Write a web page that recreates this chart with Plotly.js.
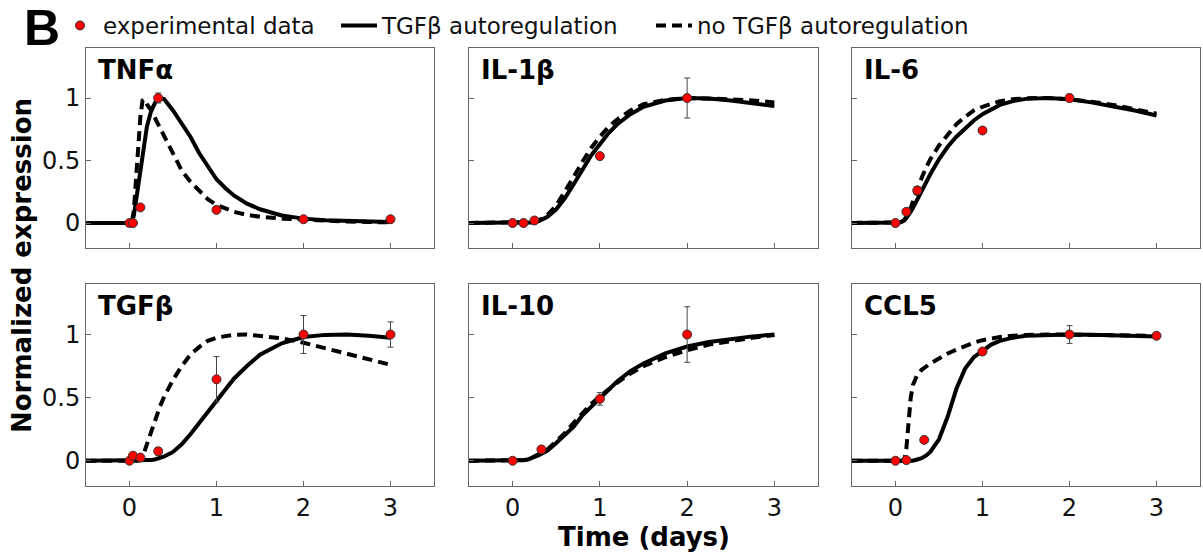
<!DOCTYPE html>
<html>
<head>
<meta charset="utf-8">
<script src="https://cdn.plot.ly/plotly-3.0.1.min.js"></script>
<style>html,body{margin:0;padding:0;background:#fff;}#chart{width:1203px;height:555px;}</style>
</head>
<body>
<div id="chart"></div>
<script>
// ---------- data ----------
const panelNames = ["TNFα", "IL-1β", "IL-6", "TGFβ", "IL-10", "CCL5"];
const seriesNames = ["experimental data", "TGFβ autoregulation", "no TGFβ autoregulation"];
const xTickVals = [0, 1, 2, 3];
const xTickText = ["0", "1", "2", "3"];
const yTickVals = [0, 0.5, 1];
const yTickText = ["0", "0.5", "1"];

// model time grid (days)
const modelTime = [-0.5, 0, 0.025, 0.05, 0.075, 0.1, 0.125, 0.15, 0.175, 0.2, 0.25, 0.3, 0.35, 0.4, 0.5, 0.6, 0.7, 0.8, 0.9, 1.0, 1.1, 1.2, 1.35, 1.5, 1.75, 2.0, 2.25, 2.5, 2.75, 3.0];

// model curves: with TGFβ autoregulation (solid) / without (dashed)
const tnfSolid  = [0, 0, 0, 0.06, 0.18, 0.31, 0.44, 0.56, 0.67, 0.77, 0.9, 0.97, 1.0, 0.99, 0.9, 0.8, 0.69, 0.56, 0.45, 0.35, 0.28, 0.22, 0.155, 0.11, 0.06, 0.035, 0.022, 0.015, 0.01, 0.008];
const tnfDashed = [0, 0, 0, 0.1, 0.35, 0.62, 0.85, 0.98, 0.99, 0.95, 0.9, 0.83, 0.76, 0.69, 0.55, 0.42, 0.33, 0.26, 0.19, 0.145, 0.115, 0.09, 0.065, 0.05, 0.035, 0.025, 0.017, 0.012, 0.008, 0.005];

const il1Solid  = [0, 0, 0, 0, 0, 0, 0, 0, 0, 0, 0.005, 0.015, 0.03, 0.05, 0.11, 0.2, 0.31, 0.43, 0.54, 0.63, 0.72, 0.79, 0.87, 0.93, 0.98, 1.0, 0.995, 0.98, 0.96, 0.935];
const il1Dashed = [0, 0, 0, 0, 0, 0, 0, 0, 0, 0, 0.008, 0.02, 0.04, 0.065, 0.14, 0.25, 0.37, 0.49, 0.6, 0.69, 0.77, 0.83, 0.9, 0.95, 0.985, 1.0, 0.998, 0.99, 0.98, 0.965];

const il6Solid  = [0, 0, 0, 0.005, 0.01, 0.02, 0.04, 0.06, 0.09, 0.12, 0.19, 0.26, 0.33, 0.39, 0.51, 0.61, 0.69, 0.76, 0.82, 0.87, 0.91, 0.945, 0.975, 0.993, 1.0, 0.99, 0.965, 0.935, 0.9, 0.86];
const il6Dashed = [0, 0, 0, 0.005, 0.012, 0.025, 0.05, 0.08, 0.12, 0.17, 0.27, 0.36, 0.44, 0.51, 0.62, 0.71, 0.79, 0.85, 0.9, 0.93, 0.955, 0.975, 0.99, 0.998, 1.0, 0.99, 0.97, 0.945, 0.91, 0.875];

const tgfSolid  = [0, 0, 0, 0, 0, 0, 0, 0, 0, 0, 0.005, 0.012, 0.02, 0.035, 0.07, 0.13, 0.21, 0.3, 0.39, 0.48, 0.57, 0.65, 0.75, 0.84, 0.93, 0.98, 0.997, 1.0, 0.99, 0.975];
const tgfDashed = [0, 0, 0, 0, 0, 0, 0.01, 0.035, 0.08, 0.13, 0.24, 0.34, 0.43, 0.51, 0.64, 0.75, 0.84, 0.9, 0.95, 0.975, 0.99, 0.998, 1.0, 0.99, 0.97, 0.935, 0.89, 0.85, 0.8, 0.76];

const il10Solid  = [0, 0, 0, 0, 0, 0, 0.003, 0.006, 0.01, 0.015, 0.03, 0.045, 0.06, 0.08, 0.14, 0.2, 0.27, 0.36, 0.43, 0.5, 0.57, 0.63, 0.71, 0.77, 0.85, 0.905, 0.94, 0.965, 0.985, 1.0];
const il10Dashed = [0, 0, 0, 0, 0, 0, 0.004, 0.008, 0.012, 0.02, 0.035, 0.05, 0.07, 0.09, 0.15, 0.22, 0.3, 0.38, 0.45, 0.51, 0.57, 0.62, 0.69, 0.75, 0.82, 0.875, 0.92, 0.95, 0.975, 0.995];

const ccl5Solid  = [0, 0, 0, 0, 0, 0, 0, 0, 0, 0, 0.01, 0.02, 0.04, 0.07, 0.17, 0.35, 0.57, 0.73, 0.82, 0.875, 0.92, 0.95, 0.975, 0.99, 0.998, 1.0, 0.998, 0.995, 0.99, 0.985];
const ccl5Dashed = [0, 0, 0, 0, 0, 0, 0.1, 0.3, 0.5, 0.6, 0.68, 0.72, 0.75, 0.77, 0.81, 0.85, 0.88, 0.91, 0.935, 0.955, 0.97, 0.98, 0.99, 0.997, 1.0, 1.0, 0.998, 0.995, 0.992, 0.99];

// experimental data (time in days, normalized value, error)
const tnfExpT = [0, 0.04, 0.125, 0.33, 1, 2, 3];
const tnfExpY = [0, 0, 0.125, 1.0, 0.105, 0.03, 0.03];
const tnfExpE = [0.01, 0.01, 0.02, 0.04, 0.02, 0.01, 0.02];

const il1ExpT = [0, 0.125, 0.25, 1, 2];
const il1ExpY = [0, 0, 0.02, 0.535, 1.0];
const il1ExpE = [0.01, 0.01, 0.01, 0.02, 0.16];

const il6ExpT = [0, 0.125, 0.25, 1, 2];
const il6ExpY = [0, 0.09, 0.26, 0.74, 1.0];
const il6ExpE = [0.01, 0.02, 0.03, 0.02, 0.03];

const tgfExpT = [0, 0.04, 0.125, 0.33, 1, 2, 3];
const tgfExpY = [0, 0.04, 0.025, 0.075, 0.645, 1.0, 1.0];
const tgfExpE = [0.01, 0.02, 0.02, 0.03, 0.18, 0.15, 0.1];

const il10ExpT = [0, 0.33, 1, 2];
const il10ExpY = [0, 0.09, 0.49, 1.0];
const il10ExpE = [0.01, 0.02, 0.05, 0.22];

const ccl5ExpT = [0, 0.125, 0.33, 1, 2, 3];
const ccl5ExpY = [0, 0.005, 0.165, 0.865, 1.0, 0.99];
const ccl5ExpE = [0.01, 0.01, 0.01, 0.02, 0.07, 0.01];

// ---------- build ----------
const solids  = [tnfSolid, il1Solid, il6Solid, tgfSolid, il10Solid, ccl5Solid];
const dashes  = [tnfDashed, il1Dashed, il6Dashed, tgfDashed, il10Dashed, ccl5Dashed];
const expT = [tnfExpT, il1ExpT, il6ExpT, tgfExpT, il10ExpT, ccl5ExpT];
const expY = [tnfExpY, il1ExpY, il6ExpY, tgfExpY, il10ExpY, ccl5ExpY];
const expE = [tnfExpE, il1ExpE, il6ExpE, tgfExpE, il10ExpE, ccl5ExpE];

const W = 1203, H = 555;
const colPx = [[86, 434], [469, 818], [852, 1200]];
const rowPx = [[48, 248], [284, 486]];
const FONT = "DejaVu Sans, Verdana, sans-serif";

const traces = [];
const layout = {
  width: W, height: H,
  margin: {l: 0, r: 0, t: 0, b: 0},
  paper_bgcolor: "#fff", plot_bgcolor: "#fff",
  font: {family: FONT, color: "#000"},
  showlegend: true,
  legend: {
    orientation: "h", x: 57 / W, xanchor: "left", y: 1 - 4 / H, yanchor: "top",
    font: {family: FONT, size: 23, color: "#111"},
    bgcolor: "rgba(0,0,0,0)", tracegroupgap: 0, itemwidth: 36
  },
  annotations: [],
  shapes: []
};
const legendWidths = [228, 264, 280];

for (let i = 0; i < 6; i++) {
  const row = Math.floor(i / 3), col = i % 3;
  const n = i + 1;
  const xa = "x" + n, ya = "y" + n;
  const xk = "xaxis" + (n === 1 ? "" : n), yk = "yaxis" + (n === 1 ? "" : n);
  layout[xk] = {
    domain: [colPx[col][0] / W, colPx[col][1] / W],
    anchor: ya, range: [-0.5, 3.5],
    showline: true, mirror: true, linecolor: "#666", linewidth: 1,
    ticks: "inside", ticklen: 5, tickcolor: "#666", tickwidth: 1,
    tickvals: xTickVals, ticktext: xTickText,
    showticklabels: row === 1,
    tickfont: {family: FONT, size: 24, color: "#111"},
    showgrid: false, zeroline: false, fixedrange: true
  };
  layout[yk] = {
    domain: [1 - rowPx[row][1] / H, 1 - rowPx[row][0] / H],
    anchor: xa, range: [-0.2, 1.4],
    showline: true, mirror: true, linecolor: "#666", linewidth: 1,
    ticks: "inside", ticklen: 5, tickcolor: "#666", tickwidth: 1,
    tickvals: yTickVals, ticktext: yTickText,
    showticklabels: col === 0,
    tickfont: {family: FONT, size: 24, color: "#111"},
    showgrid: false, zeroline: false, fixedrange: true
  };
  traces.push({
    type: "scatter", mode: "lines", x: modelTime, y: solids[i], xaxis: xa, yaxis: ya,
    name: seriesNames[1], legendrank: 2, showlegend: i === 0, legendwidth: legendWidths[1],
    line: {color: "#000", width: 4}, hoverinfo: "skip"
  });
  traces.push({
    type: "scatter", mode: "lines", x: modelTime, y: dashes[i], xaxis: xa, yaxis: ya,
    name: seriesNames[2], legendrank: 3, showlegend: i === 0, legendwidth: legendWidths[2],
    line: {color: "#000", width: 4, dash: "10px,6px"}, hoverinfo: "skip"
  });
  traces.push({
    type: "scatter", mode: "markers", x: expT[i], y: expY[i], xaxis: xa, yaxis: ya,
    name: seriesNames[0], legendrank: 1, showlegend: i === 0, legendwidth: legendWidths[0],
    marker: {color: "#ff0000", size: 9, line: {color: "#333", width: 1}},
    error_y: {type: "data", array: expE[i], visible: true, color: "#444", thickness: 1, width: 3}
  });
  layout.annotations.push({
    xref: xa + " domain", yref: ya + " domain", x: 0.03, y: 0.975,
    xanchor: "left", yanchor: "top", showarrow: false,
    text: "<b>" + panelNames[i] + "</b>",
    font: {family: FONT, size: 26, color: "#000"}
  });
}

layout.annotations.push({
  xref: "paper", yref: "paper", x: 22 / W, y: 1 - 266 / H, xanchor: "center", yanchor: "middle",
  showarrow: false, textangle: -90, text: "<b>Normalized expression</b>",
  font: {family: FONT, size: 26, color: "#000"}
});
layout.annotations.push({
  xref: "paper", yref: "paper", x: 644 / W, y: 1 - 537 / H, xanchor: "center", yanchor: "middle",
  showarrow: false, text: "<b>Time (days)</b>",
  font: {family: FONT, size: 26, color: "#000"}
});
layout.annotations.push({
  xref: "paper", yref: "paper", x: 42 / W, y: 1 - 28 / H, xanchor: "center", yanchor: "middle",
  showarrow: false, text: "<b>B</b>",
  font: {family: "Liberation Sans, Arial, sans-serif", size: 50, color: "#000"}
});

Plotly.newPlot("chart", traces, layout, {staticPlot: true, displayModeBar: false});
</script>
</body>
</html>
